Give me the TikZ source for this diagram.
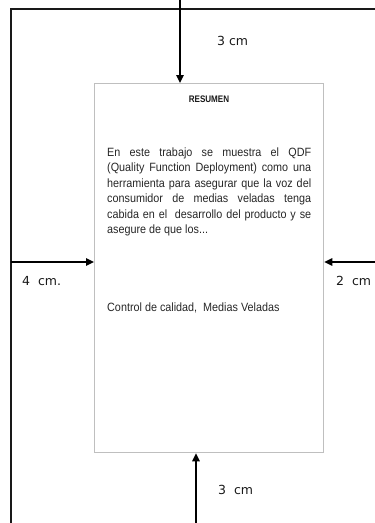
\documentclass[tikz,border=0pt]{standalone}
\usepackage{fontspec}
\setmainfont{Liberation Sans}
\newfontfamily\narrowfont{Liberation Sans}[FakeStretch=0.9]
\newfontfamily\narrowbold{Liberation Sans Bold}[FakeStretch=0.85]
\newfontfamily\labfont{DejaVu Sans}
\usetikzlibrary{arrows.meta}
\tikzset{
  frame/.style={line width=1.6pt, draw=black!90},
  pagebox/.style={draw=black!25, line width=1.3pt},
  marrow/.style={line width=1.5pt, -{Triangle[length=8pt,width=7.5pt]}},
  lab/.style={font=\labfont\fontsize{12.5}{14}\selectfont, inner sep=0pt, anchor=base west, text=black!90},
  body/.style={font=\narrowfont\fontsize{12}{15.5}\selectfont, inner sep=0pt, anchor=base west, text=black!85},
}
\begin{document}
\begin{tikzpicture}[x=1pt,y=-1pt]
\useasboundingbox (0,0) rectangle (375,523);
% outer frame
\coordinate (fl) at (11,523);
\coordinate (fc) at (11,9);
\coordinate (fr) at (375,9);
\draw[frame] (fl) -- (fc) -- (fr);
% page box
\node[pagebox, minimum width=229pt, minimum height=369pt, inner sep=0pt, anchor=north west] (page) at (94,83) {};
% title
\node[inner sep=0pt, anchor=base, font=\narrowbold\fontsize{9.5}{11}\selectfont, text=black!90] (title) at (209,102) {RESUMEN};
% abstract
\node[body, text width=204pt, align=justify] (abs) at (107,156) {En este trabajo se muestra el QDF\linebreak
(Quality Function Deployment) como una\linebreak
herramienta para asegurar que la voz del\linebreak
consumidor de medias veladas tenga\linebreak
cabida en el~ desarrollo del producto y se\linebreak
asegure de que los...};
\node[body] (kw) at (107,311) {Control de calidad,~ Medias Veladas};
% arrows
\coordinate (ta) at (180,0);
\coordinate (la) at (11,262);
\coordinate (ra) at (375,262);
\coordinate (ba) at (196,523);
\draw[marrow] (ta) -- (ta |- page.north);
\draw[marrow] (la) -- (la -| page.west);
\draw[marrow] (ra) -- (ra -| page.east);
\draw[marrow] (ba) -- (ba |- page.south);
% labels
\node[lab] (lt) at (217,45) {3 cm};
\node[lab] (ll) at (22,285) {4~~cm.};
\node[lab] (lr) at (336,285) {2~~cm};
\node[lab] (lb) at (218,494) {3~~cm};
\end{tikzpicture}
\end{document}
